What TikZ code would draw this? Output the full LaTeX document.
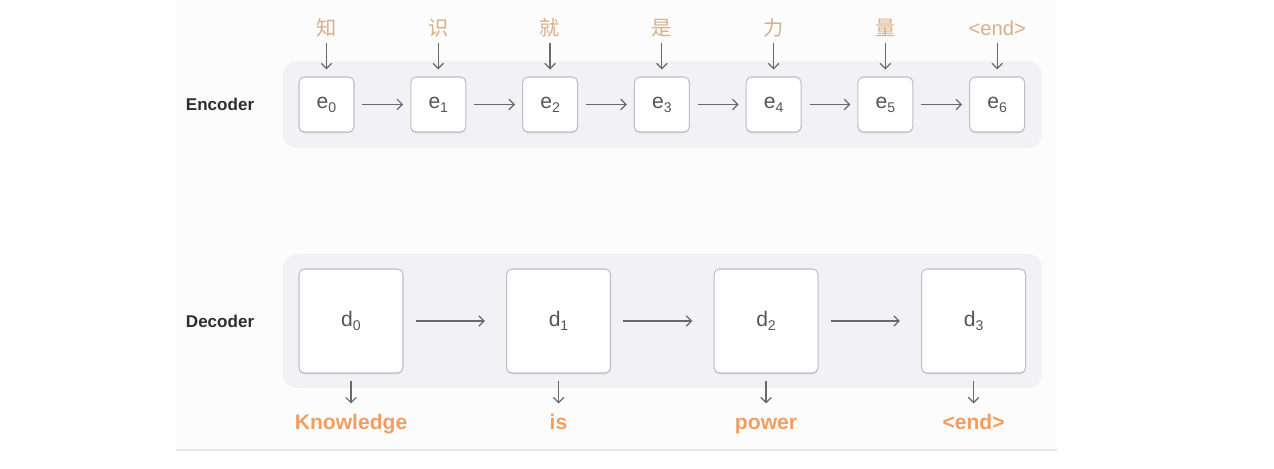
\documentclass[tikz,border=0pt]{standalone}
\usepackage{fontspec}
\setmainfont{Liberation Sans}
\newfontfamily\zhfont{Noto Sans CJK SC}
\usetikzlibrary{arrows.meta,positioning,shadows}
\definecolor{srctan}{RGB}{216,176,136}
\definecolor{tgtorange}{RGB}{243,158,96}
\definecolor{bandgray}{RGB}{242,242,246}
\definecolor{panelbg}{RGB}{252,252,253}
\definecolor{panelline}{RGB}{230,230,233}
\definecolor{cellline}{RGB}{190,190,196}
\definecolor{celltext}{RGB}{85,85,88}
\definecolor{flowgray}{RGB}{105,105,108}
\newcommand{\idx}[2]{#1\raisebox{-0.35ex}{\fontsize{8}{9}\selectfont #2}}

\begin{document}
\begin{tikzpicture}[
  x=0.02cm, y=-0.02cm,
  cell/.style={rectangle, draw=cellline, fill=white, rounded corners=3pt, line width=0.6pt,
    text=celltext, font=\fontsize{12}{13}\selectfont,
    drop shadow={shadow xshift=0pt, shadow yshift=-0.8pt, opacity=0.2}},
  enccell/.style={cell, minimum size=1.1cm},
  deccell/.style={cell, minimum size=2.08cm},
  sidelabel/.style={inner sep=0pt, text=black!82, font=\bfseries\fontsize{9.7}{11}\selectfont},
  srclabel/.style={inner sep=0pt, text height=10pt, text depth=2pt, text=srctan, font=\fontsize{11.5}{13}\selectfont},
  tgtlabel/.style={inner sep=0pt, text height=9pt, text depth=2.5pt, text=tgtorange, font=\bfseries\fontsize{12}{14}\selectfont},
  flow/.style={-{Straight Barb[length=3pt,width=6pt]}, draw=flowgray, line width=0.7pt},
  encflow/.style={flow, shorten <=4.5pt, shorten >=4pt},
  decflow/.style={flow, shorten <=7pt, shorten >=12pt},
  inflow/.style={flow, shorten <=1.8pt, shorten >=4pt},
  outflow/.style={flow, shorten <=4pt, shorten >=5.7pt}
]
\useasboundingbox (0,0) rectangle (1274,469);

% 背景
\fill[panelbg] (176,0) rectangle (1057,450);
\draw[panelline, line width=0.6pt] (176,450) -- (1057,450);
\fill[bandgray, rounded corners=8pt] (283,61) rectangle (1042,148);
\fill[bandgray, rounded corners=8pt] (283,254) rectangle (1042,388);

% Encoder
\node[enccell] at (326.5,104.5) (e0) {\idx{e}{0}};
\node[enccell, right=1.115cm of e0] (e1) {\idx{e}{1}};
\node[enccell, right=1.115cm of e1] (e2) {\idx{e}{2}};
\node[enccell, right=1.115cm of e2] (e3) {\idx{e}{3}};
\node[enccell, right=1.115cm of e3] (e4) {\idx{e}{4}};
\node[enccell, right=1.115cm of e4] (e5) {\idx{e}{5}};
\node[enccell, right=1.115cm of e5] (e6) {\idx{e}{6}};
\node[sidelabel, left=0.88cm of e0] (enc) {Encoder};

% 输入
\node[srclabel, above=0.74cm of e0] (x0) {\zhfont 知};
\node[srclabel, above=0.74cm of e1] (x1) {\zhfont 识};
\node[srclabel, above=0.74cm of e2] (x2) {\zhfont 就};
\node[srclabel, above=0.74cm of e3] (x3) {\zhfont 是};
\node[srclabel, above=0.74cm of e4] (x4) {\zhfont 力};
\node[srclabel, above=0.74cm of e5] (x5) {\zhfont 量};
\node[srclabel, above=0.74cm of e6] (x6) {<end>};

\draw[inflow] (x0) -- (e0);
\draw[inflow] (x1) -- (e1);
\draw[inflow] (x2) -- (e2);
\draw[inflow] (x3) -- (e3);
\draw[inflow] (x4) -- (e4);
\draw[inflow] (x5) -- (e5);
\draw[inflow] (x6) -- (e6);

\draw[encflow] (e0) -- (e1);
\draw[encflow] (e1) -- (e2);
\draw[encflow] (e2) -- (e3);
\draw[encflow] (e3) -- (e4);
\draw[encflow] (e4) -- (e5);
\draw[encflow] (e5) -- (e6);

% Decoder
\node[deccell] at (351,321) (d0) {\idx{d}{0}};
\node[deccell, right=2.05cm of d0] (d1) {\idx{d}{1}};
\node[deccell, right=2.05cm of d1] (d2) {\idx{d}{2}};
\node[deccell, right=2.05cm of d2] (d3) {\idx{d}{3}};
\node[sidelabel, left=0.88cm of d0] (dec) {Decoder};

\draw[decflow] (d0) -- (d1);
\draw[decflow] (d1) -- (d2);
\draw[decflow] (d2) -- (d3);

% 输出
\node[tgtlabel, below=0.8cm of d0] (y0) {Knowledge};
\node[tgtlabel, below=0.8cm of d1] (y1) {is};
\node[tgtlabel, below=0.8cm of d2] (y2) {power};
\node[tgtlabel, below=0.8cm of d3] (y3) {<end>};

\draw[outflow] (d0) -- (y0);
\draw[outflow] (d1) -- (y1);
\draw[outflow] (d2) -- (y2);
\draw[outflow] (d3) -- (y3);

\end{tikzpicture}
\end{document}
